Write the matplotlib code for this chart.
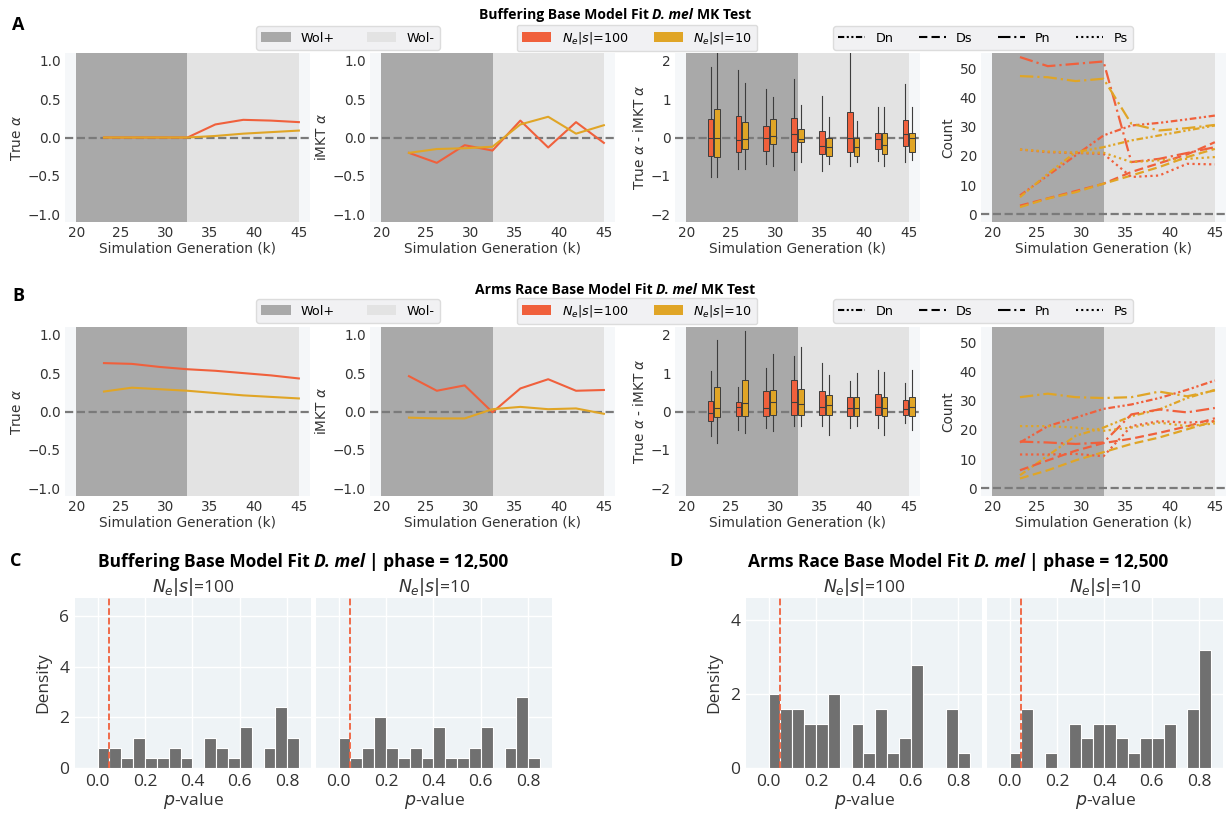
import matplotlib
matplotlib.use('Agg')
import matplotlib.pyplot as plt
from matplotlib.patches import Patch
from matplotlib.lines import Line2D

# ---------------- data ----------------
gens = [23.125, 26.25, 29.375, 32.5, 35.625, 38.75, 41.875, 45.0]
gen_ticks = [20, 25, 30, 35, 40, 45]

buff_true_100 = [0.0, 0.0, 0.0, 0.0, 0.17, 0.23, 0.22, 0.20]
buff_true_10 = [0.0, 0.0, 0.0, 0.0, 0.02, 0.05, 0.07, 0.09]
buff_imkt_100 = [-0.20, -0.33, -0.10, -0.17, 0.22, -0.13, 0.20, -0.07]
buff_imkt_10 = [-0.20, -0.15, -0.14, -0.12, 0.17, 0.27, 0.05, 0.16]
arms_true_100 = [0.63, 0.62, 0.58, 0.55, 0.53, 0.50, 0.47, 0.43]
arms_true_10 = [0.26, 0.31, 0.29, 0.27, 0.24, 0.21, 0.19, 0.17]
arms_imkt_100 = [0.46, 0.27, 0.34, -0.01, 0.30, 0.42, 0.27, 0.28]
arms_imkt_10 = [-0.08, -0.09, -0.09, 0.03, 0.06, 0.03, 0.04, -0.03]

# boxplot statistics (True alpha - iMKT alpha)
buff_box_100_lo = [-1.03, -0.81, -0.68, -0.85, -0.87, -0.73, -0.62, -0.64]
buff_box_100_q1 = [-0.47, -0.38, -0.34, -0.37, -0.43, -0.38, -0.30, -0.21]
buff_box_100_med = [0.00, -0.07, 0.00, 0.08, -0.21, 0.00, -0.04, 0.10]
buff_box_100_q3 = [0.49, 0.55, 0.31, 0.52, 0.18, 0.67, 0.13, 0.46]
buff_box_100_hi = [1.83, 1.76, 1.25, 1.52, 1.07, 2.23, 0.80, 1.38]
buff_box_10_lo = [-1.03, -0.81, -0.73, -0.64, -0.68, -0.64, -0.73, -0.58]
buff_box_10_q1 = [-0.51, -0.30, -0.17, -0.13, -0.47, -0.47, -0.43, -0.38]
buff_box_10_med = [0.00, -0.05, 0.05, -0.05, -0.25, -0.25, -0.20, -0.02]
buff_box_10_q3 = [0.73, 0.40, 0.49, 0.22, 0.00, 0.00, 0.13, 0.12]
buff_box_10_hi = [2.19, 1.43, 1.05, 0.85, 0.54, 0.43, 0.80, 0.80]

arms_box_100_lo = [-0.64, -0.47, -0.43, -0.38, -0.38, -0.43, -0.43, -0.30]
arms_box_100_q1 = [-0.25, -0.12, -0.12, -0.10, -0.08, -0.12, -0.10, -0.10]
arms_box_100_med = [-0.03, 0.12, 0.08, 0.26, 0.12, 0.09, 0.12, 0.06]
arms_box_100_q3 = [0.28, 0.26, 0.53, 0.81, 0.53, 0.37, 0.46, 0.30]
arms_box_100_hi = [1.06, 0.65, 1.12, 1.44, 1.27, 0.79, 1.07, 0.74]
arms_box_10_lo = [-0.81, -0.56, -0.51, -0.38, -0.60, -0.38, -0.60, -0.47]
arms_box_10_q1 = [-0.15, -0.12, -0.10, -0.10, -0.10, -0.12, -0.12, -0.12]
arms_box_10_med = [0.08, 0.22, 0.24, 0.20, 0.17, 0.10, 0.08, 0.12]
arms_box_10_q3 = [0.63, 0.81, 0.55, 0.59, 0.44, 0.37, 0.37, 0.39]
arms_box_10_hi = [1.85, 2.09, 1.50, 1.69, 0.96, 0.99, 1.03, 1.09]

# MK counts
buff_Dn_100 = [6.5, 13.3, 20.2, 27.0, 30.4, 31.3, 32.5, 33.8]
buff_Ds_100 = [3.0, 5.5, 8.0, 10.5, 14.5, 17.5, 20.5, 24.7]
buff_Pn_100 = [53.8, 50.7, 51.5, 52.3, 17.9, 19.0, 21.0, 23.0]
buff_Ps_100 = [22.2, 21.3, 21.0, 20.7, 12.8, 13.3, 17.3, 17.1]
buff_Dn_10 = [5.9, 13.9, 21.3, 23.0, 25.3, 27.0, 28.7, 30.4]
buff_Ds_10 = [2.5, 5.4, 7.6, 10.5, 13.3, 16.2, 19.6, 22.4]
buff_Pn_10 = [47.3, 46.9, 45.6, 46.4, 31.0, 28.7, 29.5, 30.6]
buff_Ps_10 = [22.2, 21.5, 21.1, 21.1, 17.9, 18.5, 19.0, 19.6]

arms_Dn_100 = [15.7, 21.3, 24.2, 27.2, 28.7, 30.9, 33.7, 36.9]
arms_Ds_100 = [6.2, 9.6, 12.9, 15.5, 17.0, 19.0, 21.2, 24.0]
arms_Pn_100 = [16.0, 15.7, 15.2, 15.7, 25.3, 27.0, 26.0, 27.5]
arms_Ps_100 = [11.6, 11.6, 11.8, 11.0, 21.3, 23.0, 22.5, 23.0]
arms_Dn_10 = [4.5, 11.2, 18.0, 20.8, 24.7, 27.0, 30.9, 33.7]
arms_Ds_10 = [3.4, 6.2, 9.6, 12.4, 15.2, 17.4, 20.2, 23.0]
arms_Pn_10 = [31.2, 32.4, 31.2, 30.9, 31.2, 33.1, 31.5, 33.5]
arms_Ps_10 = [21.3, 21.3, 20.8, 19.7, 20.8, 22.5, 21.3, 22.2]

# p-value histograms (density)
bin_left = [0.00, 0.05, 0.10, 0.15, 0.20, 0.25, 0.30, 0.35, 0.40,
            0.45, 0.50, 0.55, 0.60, 0.65, 0.70, 0.75, 0.80]
bin_width = 0.05
buff_hist_100 = [0.8, 0.8, 0.4, 1.2, 0.4, 0.4, 0.8, 0.4, 0.0, 1.2, 0.8, 0.4, 1.6, 0.0, 0.8, 2.4, 1.2]
buff_hist_10 = [1.2, 0.4, 0.8, 2.0, 0.8, 0.4, 0.8, 0.4, 1.6, 0.4, 0.4, 0.8, 1.6, 0.0, 0.8, 2.8, 0.4]
arms_hist_100 = [2.0, 1.6, 1.6, 1.2, 1.2, 2.0, 0.0, 1.2, 0.4, 1.6, 0.4, 0.8, 2.8, 0.0, 0.0, 1.6, 0.4]
arms_hist_10 = [0.4, 1.6, 0.0, 0.4, 0.0, 1.2, 0.8, 1.2, 1.2, 0.8, 0.4, 0.8, 0.8, 1.2, 0.0, 1.6, 3.2]
p_threshold = 0.05

label_100 = r'$N_e|s|$=100'
label_10 = r'$N_e|s|$=10'

# ---------------- style ----------------
W, H = 1229, 821
plt.rcParams['font.family'] = ['DejaVu Sans']
RED = '#f0603c'
GOLD = '#e0a526'
DARK = '#a9a9a9'
LIGHT = '#e3e3e3'
FACE = '#f5f7f9'
HFACE = '#eef3f6'
BAR = '#707070'
ZERO = '#7a7a7a'
TXT = '#333333'
TITLE_FONT = ['Liberation Sans Narrow', 'Open Sans', 'DejaVu Sans']
HFONT = ['Open Sans', 'DejaVu Sans']
FS = 9.8

fig = plt.figure(figsize=(W / 100, H / 100), dpi=100)
renderer = fig.canvas.get_renderer()


def add_ax(left, top, width, height):
    return fig.add_axes([left / W, 1 - (top + height) / H, width / W, height / H])


def style_top(ax, ylim, yticks, ylabel):
    ax.set_facecolor(FACE)
    ax.axvspan(20, 32.5, color=DARK, lw=0, zorder=0.5)
    ax.axvspan(32.5, 45, color=LIGHT, lw=0, zorder=0.5)
    ax.axhline(0, color=ZERO, ls='--', lw=1.6, zorder=1.5)
    ax.set_xlim(18.75, 46.25)
    ax.set_ylim(*ylim)
    ax.set_xticks(gen_ticks)
    ax.set_yticks(yticks)
    for sp in ax.spines.values():
        sp.set_visible(False)
    ax.tick_params(length=0, labelsize=FS, colors=TXT, pad=3)
    ax.set_xlabel('Simulation Generation (k)', fontsize=FS, color=TXT, labelpad=1)
    ax.set_ylabel(ylabel, fontsize=FS, color=TXT, labelpad=3)


def draw_boxes(ax, lo, q1, med, q3, hi, offset, color):
    stats = [dict(whislo=a, q1=b, med=c, q3=d, whishi=e, fliers=[])
             for a, b, c, d, e in zip(lo, q1, med, q3, hi)]
    pos = [g + offset for g in gens]
    ax.bxp(stats, positions=pos, widths=0.65, patch_artist=True,
           showfliers=False, showcaps=False, manage_ticks=False,
           boxprops=dict(facecolor=color, edgecolor='#3d3d3d', lw=0.7),
           medianprops=dict(color='#3d3d3d', lw=0.8),
           whiskerprops=dict(color='#3d3d3d', lw=0.8), zorder=3)


STY = {'Dn': (0, (3, 1.2, 1, 1.2, 1, 1.2)), 'Ds': (0, (4, 2)),
       'Pn': (0, (6, 1.8, 1, 1.8)), 'Ps': (0, (1, 1.5))}


def rich_text(cx, cy, parts, size, family):
    texts = []
    for s, style in parts:
        t = fig.text(0, 1 - cy / H, s, fontsize=size, fontweight='bold', fontstyle=style,
                     va='center', ha='left', family=family, color='black')
        texts.append(t)
    t1 = fig.text(0, 0, 'a a', fontsize=size, fontweight='bold', family=family)
    t2 = fig.text(0, 0, 'aa', fontsize=size, fontweight='bold', family=family)
    space = t1.get_window_extent(renderer).width - t2.get_window_extent(renderer).width
    t1.remove()
    t2.remove()
    widths = [t.get_window_extent(renderer).width for t in texts]
    total = sum(widths) + space * (len(texts) - 1)
    x = cx - total / 2
    for t, w in zip(texts, widths):
        t.set_x(x / W)
        x += w + space


def row_legends(cy):
    kw = dict(loc='center', frameon=True, fontsize=9.2, facecolor='#f1f1f3',
              edgecolor='#dcdcdc', framealpha=1, fancybox=True, borderpad=0.4,
              handleheight=0.9)
    fig.legend(handles=[Patch(facecolor=DARK, edgecolor='none'), Patch(facecolor=LIGHT, edgecolor='none')],
               labels=['Wol+', 'Wol-'], bbox_to_anchor=(348 / W, 1 - cy / H), ncol=2,
               handlelength=2.3, columnspacing=2.5, handletextpad=0.8, **kw)
    fig.legend(handles=[Patch(facecolor=RED, edgecolor='none'), Patch(facecolor=GOLD, edgecolor='none')],
               labels=[label_100, label_10], bbox_to_anchor=(637 / W, 1 - cy / H), ncol=2,
               handlelength=2.3, columnspacing=2.0, handletextpad=0.8, **kw)
    fig.legend(handles=[Line2D([], [], color='black', lw=1.5, ls=STY[k]) for k in ['Dn', 'Ds', 'Pn', 'Ps']],
               labels=['Dn', 'Ds', 'Pn', 'Ps'], bbox_to_anchor=(983 / W, 1 - cy / H), ncol=4,
               handlelength=2.1, columnspacing=2.0, handletextpad=0.8, **kw)


lefts = [65, 370, 675, 981]
AW, AH = 245, 169

rows = [
    dict(top=53, title=('Buffering Base Model Fit', 'D. mel', 'MK Test'), title_y=15, leg_y=38,
         letter='A', letter_y=25,
         t100=buff_true_100, t10=buff_true_10, i100=buff_imkt_100, i10=buff_imkt_10,
         b100=(buff_box_100_lo, buff_box_100_q1, buff_box_100_med, buff_box_100_q3, buff_box_100_hi),
         b10=(buff_box_10_lo, buff_box_10_q1, buff_box_10_med, buff_box_10_q3, buff_box_10_hi),
         c100=dict(Dn=buff_Dn_100, Ds=buff_Ds_100, Pn=buff_Pn_100, Ps=buff_Ps_100),
         c10=dict(Dn=buff_Dn_10, Ds=buff_Ds_10, Pn=buff_Pn_10, Ps=buff_Ps_10)),
    dict(top=327, title=('Arms Race Base Model Fit', 'D. mel', 'MK Test'), title_y=290, leg_y=311,
         letter='B', letter_y=296,
         t100=arms_true_100, t10=arms_true_10, i100=arms_imkt_100, i10=arms_imkt_10,
         b100=(arms_box_100_lo, arms_box_100_q1, arms_box_100_med, arms_box_100_q3, arms_box_100_hi),
         b10=(arms_box_10_lo, arms_box_10_q1, arms_box_10_med, arms_box_10_q3, arms_box_10_hi),
         c100=dict(Dn=arms_Dn_100, Ds=arms_Ds_100, Pn=arms_Pn_100, Ps=arms_Ps_100),
         c10=dict(Dn=arms_Dn_10, Ds=arms_Ds_10, Pn=arms_Pn_10, Ps=arms_Ps_10)),
]

for r in rows:
    a1 = add_ax(lefts[0], r['top'], AW, AH)
    style_top(a1, (-1.1, 1.1), [-1.0, -0.5, 0.0, 0.5, 1.0], r'True $\alpha$')
    a1.plot(gens, r['t100'], color=RED, lw=1.5, zorder=3)
    a1.plot(gens, r['t10'], color=GOLD, lw=1.5, zorder=3)

    a2 = add_ax(lefts[1], r['top'], AW, AH)
    style_top(a2, (-1.1, 1.1), [-1.0, -0.5, 0.0, 0.5, 1.0], r'iMKT $\alpha$')
    a2.plot(gens, r['i100'], color=RED, lw=1.5, zorder=3)
    a2.plot(gens, r['i10'], color=GOLD, lw=1.5, zorder=3)

    a3 = add_ax(lefts[2], r['top'], AW, AH)
    style_top(a3, (-2.2, 2.2), [-2, -1, 0, 1, 2], r'True $\alpha$ - iMKT $\alpha$')
    draw_boxes(a3, *r['b100'], offset=-0.38, color=RED)
    draw_boxes(a3, *r['b10'], offset=0.38, color=GOLD)

    a4 = add_ax(lefts[3], r['top'], AW, AH)
    style_top(a4, (-2.6, 55.2), [0, 10, 20, 30, 40, 50], 'Count')
    for key in ['Dn', 'Ds', 'Pn', 'Ps']:
        a4.plot(gens, r['c100'][key], color=RED, lw=1.6, ls=STY[key], zorder=3)
        a4.plot(gens, r['c10'][key], color=GOLD, lw=1.6, ls=STY[key], zorder=3)

    t = r['title']
    rich_text(615, r['title_y'], [(t[0], 'normal'), (t[1], 'italic'), (t[2], 'normal')], 10, TITLE_FONT)
    row_legends(r['leg_y'])
    fig.text(18 / W, 1 - r['letter_y'] / H, r['letter'], fontsize=13, fontweight='bold',
             ha='center', va='center', family=HFONT)

# ---------------- histograms ----------------
HW, HH, HTOP = 236, 170, 598
hist_panels = [
    dict(lefts=(75, 316), data=(buff_hist_100, buff_hist_10), ylim=(0, 6.7), yticks=[0, 2, 4, 6],
         title=('Buffering Base Model Fit', 'D. mel', '| phase = 12,500'), cx=303, letter='C', lx=16),
    dict(lefts=(746, 987), data=(arms_hist_100, arms_hist_10), ylim=(0, 4.6), yticks=[0, 2, 4],
         title=('Arms Race Base Model Fit', 'D. mel', '| phase = 12,500'), cx=958, letter='D', lx=676),
]

for p in hist_panels:
    for j, (lx, vals, lab) in enumerate(zip(p['lefts'], p['data'], [label_100, label_10])):
        ax = add_ax(lx, HTOP, HW, HH)
        ax.set_facecolor(HFACE)
        ax.grid(True, color='white', lw=1.0)
        ax.set_axisbelow(True)
        ax.bar(bin_left, vals, width=bin_width, align='edge', color=BAR,
               edgecolor='white', lw=0.8, zorder=2)
        ax.axvline(p_threshold, color=RED, ls='--', lw=1.3, zorder=3)
        ax.set_xlim(-0.095, 0.9)
        ax.set_ylim(*p['ylim'])
        ax.set_xticks([0.0, 0.2, 0.4, 0.6, 0.8])
        ax.set_xticklabels(['0.0', '0.2', '0.4', '0.6', '0.8'], family=HFONT)
        ax.set_yticks(p['yticks'])
        for sp in ax.spines.values():
            sp.set_visible(False)
        ax.tick_params(length=0, labelsize=12.5, colors=TXT, pad=4)
        ax.set_xlabel(r'$p$-value', fontsize=12.5, color=TXT, family=HFONT, labelpad=1)
        ax.set_title(lab, fontsize=12.5, color=TXT, pad=4, family=HFONT)
        if j == 0:
            ax.set_yticklabels([str(v) for v in p['yticks']], family=HFONT)
            ax.set_ylabel('Density', fontsize=12.5, color=TXT, family=HFONT, labelpad=6)
        else:
            ax.set_yticklabels([])
    t = p['title']
    rich_text(p['cx'], 562, [(t[0], 'normal'), (t[1], 'italic'), (t[2], 'normal')], 12.5, TITLE_FONT)
    fig.text(p['lx'] / W, 1 - 561 / H, p['letter'], fontsize=13, fontweight='bold',
             ha='center', va='center', family=HFONT)

fig.savefig('out.png', dpi=100, facecolor='white')
